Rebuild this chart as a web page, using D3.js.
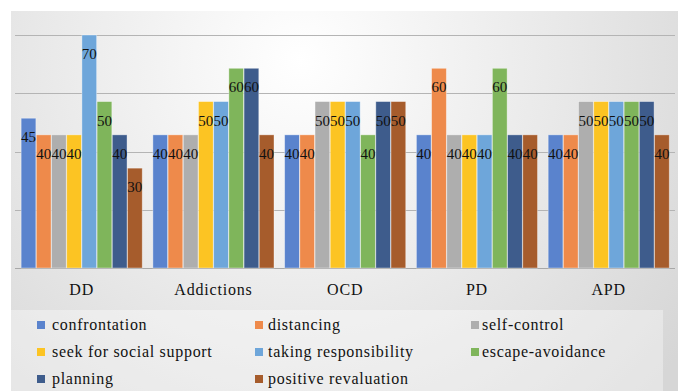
<!DOCTYPE html>
<html>
<head>
<meta charset="utf-8">
<script src="https://cdn.jsdelivr.net/npm/d3@7"></script>
<style>
html,body{margin:0;padding:0;background:#fff;}
svg{display:block;}
svg text{font-family:"Liberation Serif","Times New Roman",Times,"Tinos",serif;}
</style>
</head>
<body>
<svg id="chart" width="678" height="391"></svg>
<script>
const categories = ["DD", "Addictions", "OCD", "PD", "APD"];
const seriesNames = ["confrontation", "distancing", "self-control", "seek for social support",
  "taking responsibility", "escape-avoidance", "planning", "positive revaluation"];
const confrontation = [45, 40, 40, 40, 40];
const distancing = [40, 40, 40, 60, 40];
const selfControl = [40, 40, 50, 40, 50];
const seekSupport = [40, 50, 50, 40, 50];
const takingResp = [70, 50, 50, 40, 50];
const escapeAvoid = [50, 60, 40, 60, 50];
const planning = [40, 60, 50, 40, 50];
const positiveReval = [30, 40, 50, 40, 40];
const seriesValues = [confrontation, distancing, selfControl, seekSupport, takingResp, escapeAvoid, planning, positiveReval];
const gridTicks = [0, 17.5, 35, 52.5, 70];
const colors = ["#5A83CD", "#EE8A4B", "#AEAEAE", "#FCC423", "#6EA6DA", "#7FB55B", "#3E5C8C", "#A65C2C"];

const svg = d3.select("#chart");
const defs = svg.append("defs");
const grad = defs.append("radialGradient").attr("id", "bg")
  .attr("gradientUnits", "userSpaceOnUse")
  .attr("cx", 300).attr("cy", 60).attr("r", 480);
grad.append("stop").attr("offset", "0%").attr("stop-color", "#ffffff");
grad.append("stop").attr("offset", "100%").attr("stop-color", "#d6d6d6");

svg.append("rect").attr("x", 11).attr("y", 11).attr("width", 667).attr("height", 380).attr("fill", "url(#bg)");

const x0 = d3.scaleBand().domain(categories).range([15.8, 674.6]).paddingInner(0.074).paddingOuter(0.037);
const x1 = d3.scaleBand().domain(d3.range(seriesNames.length)).range([0, x0.bandwidth()]).padding(0.03);
const y = d3.scaleLinear().domain([0, 70]).range([268, 35]);

// gridlines
svg.append("g").selectAll("line").data(gridTicks).join("line")
  .attr("x1", 15).attr("x2", 675)
  .attr("y1", d => Math.round(y(d)) + 0.5).attr("y2", d => Math.round(y(d)) + 0.5)
  .attr("stroke", d => d === 0 ? "#a8a8a8" : "#b4b4b4").attr("stroke-width", 1);

// bars
const groups = svg.append("g").selectAll("g").data(categories).join("g")
  .attr("transform", d => `translate(${x0(d)},0)`);

groups.each(function(cat, ci) {
  const g = d3.select(this);
  const data = seriesValues.map((vals, si) => ({si, v: vals[ci]}));
  g.selectAll("rect").data(data).join("rect")
    .attr("x", d => x1(d.si)).attr("width", x1.bandwidth())
    .attr("y", d => y(d.v)).attr("height", d => y(0) - y(d.v))
    .attr("fill", d => colors[d.si])
    .attr("stroke", "rgba(255,255,255,0.45)").attr("stroke-width", 0.8);
  g.selectAll("text").data(data).join("text")
    .attr("x", d => x1(d.si) + x1.bandwidth() / 2)
    .attr("y", d => y(d.v) + 24)
    .attr("text-anchor", "middle")
    .attr("font-size", 15).attr("fill", "#111")
    .text(d => d.v);
});

// category labels
svg.append("g").selectAll("text").data(categories).join("text")
  .attr("x", d => x0(d) + x0.bandwidth() / 2)
  .attr("y", 295)
  .attr("text-anchor", "middle")
  .attr("font-size", 16).attr("letter-spacing", 0.8).attr("fill", "#111")
  .text(d => d);

// legend
svg.append("rect").attr("x", 11).attr("y", 310).attr("width", 652).attr("height", 90)
  .attr("fill", "rgba(255,255,255,0.35)");
const swatchX = [37, 255, 471];
const textX = [52, 268, 482];
const rowY = [330, 357, 384];
const lg = svg.append("g").selectAll("g").data(seriesNames).join("g")
  .attr("transform", (d, i) => `translate(0,${rowY[Math.floor(i / 3)]})`);
lg.append("rect").attr("x", (d, i) => swatchX[i % 3]).attr("y", -9).attr("width", 8).attr("height", 8)
  .attr("fill", (d, i) => colors[i]);
lg.append("text").attr("x", (d, i) => textX[i % 3]).attr("y", 0)
  .attr("font-size", 16).attr("letter-spacing", 0.7).attr("fill", "#111")
  .text(d => d);
</script>
</body>
</html>
